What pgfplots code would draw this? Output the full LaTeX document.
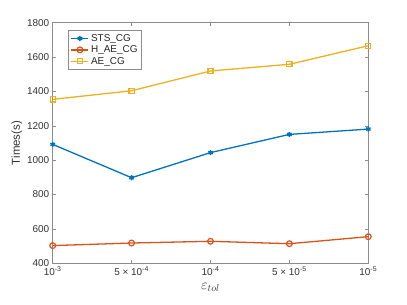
\documentclass[border=0pt]{standalone}
\usepackage{pgfplots}
\pgfplotsset{compat=1.18}
\usepackage{fontspec}
\setmainfont{Liberation Sans}
\definecolor{mblue}{rgb}{0,0.447,0.741}
\definecolor{morange}{rgb}{0.85,0.325,0.098}
\definecolor{myellow}{rgb}{0.929,0.694,0.125}
\begin{document}
\begin{tikzpicture}
\begin{axis}[
  scale only axis,
  width=315.6bp, height=240.6bp,
  xmin=0, xmax=4, ymin=400, ymax=1800,
  xtick={0,1,2,3,4},
  xticklabels={10\textsuperscript{-3}, 5 × 10\textsuperscript{-4}, 10\textsuperscript{-4}, 5 × 10\textsuperscript{-5}, 10\textsuperscript{-5}},
  ytick={400,600,...,1800},
  /pgf/number format/assume math mode=true,
  /pgf/number format/1000 sep={},
  tick align=inside,
  major tick length=3bp,
  axis line style={black!45, line width=0.6pt},
  tick style={black!45, line width=0.6pt},
  ticklabel style={font=\fontsize{10}{12}\selectfont, text=black!80},
  xlabel={$\varepsilon_{tol}$},
  xlabel style={font=\fontsize{14}{16}\selectfont, text=black!80, yshift=-1bp},
  ylabel={Times(s)},
  ylabel style={font=\fontsize{11.5}{13}\selectfont, text=black!80, yshift=-2bp},
  legend style={at={(0.05,0.97)}, anchor=north west, draw=black!45, line width=0.6pt,
    font=\fontsize{10}{12}\selectfont, text=black!85, inner sep=2bp, row sep=-1bp,
    legend cell align=left},
  legend image post style={line width=1.3pt},
]
\addplot[mblue, line width=1.3pt, mark=asterisk, mark size=2.6pt, mark options={line width=1.4pt}]
  coordinates {(0,1092) (1,898) (2,1044) (3,1150) (4,1181)};
\addlegendentry{STS\_CG}
\addplot[morange, line width=1.3pt, mark=o, mark size=2.9pt, mark options={line width=1.2pt}]
  coordinates {(0,503) (1,518) (2,528) (3,514) (4,555)};
\addlegendentry{H\_AE\_CG}
\addplot[myellow, line width=1.3pt, mark=square, mark size=2.6pt, mark options={line width=1.2pt}]
  coordinates {(0,1354) (1,1404) (2,1519) (3,1558) (4,1666)};
\addlegendentry{AE\_CG}
\end{axis}
\pgfresetboundingbox
\path (-52.7bp,-41.7bp) rectangle (354.3bp,263.3bp);
\end{tikzpicture}
\end{document}
